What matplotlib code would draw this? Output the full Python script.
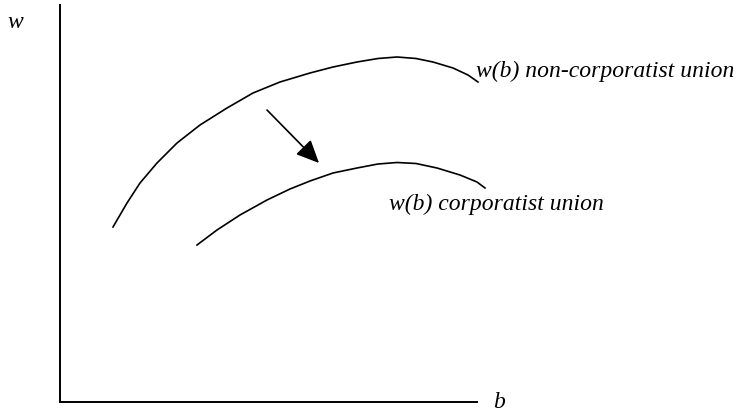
import matplotlib
matplotlib.use("Agg")
import matplotlib.pyplot as plt

# wage curves w(b) (arbitrary units)
b_non_corp = [53, 67, 80, 97, 117, 140, 167, 193, 220, 250, 273, 297, 318, 337, 356, 373, 393, 408, 418]
w_non_corp = [175, 199, 219, 239, 259, 277, 294, 309, 320, 329, 335, 340, 343.5, 345, 343.5, 340, 334, 327, 320]

b_corp = [137, 157, 180, 207, 230, 250, 273, 297, 318, 337, 356, 377, 400, 417, 425]
w_corp = [157, 172, 187, 202, 213, 221, 229, 234, 238, 239.5, 238.5, 234, 227, 220, 214]

# shift arrow (tail -> head)
arrow_tail = (207, 292)
arrow_head = (259, 239)

label_non_corp = "w(b) non-corporatist union"
label_corp = "w(b) corporatist union"

W, H = 739, 417
fig = plt.figure(figsize=(W / 100, H / 100), dpi=100)
ax = fig.add_axes([60 / W, 15 / H, 417 / W, 397 / H])
ax.set_xlim(0, 417)
ax.set_ylim(0, 397)

for side in ["top", "right"]:
    ax.spines[side].set_visible(False)
for side in ["left", "bottom"]:
    ax.spines[side].set_linewidth(1.4)
ax.set_xticks([])
ax.set_yticks([])

ax.plot(b_non_corp, w_non_corp, color="black", lw=1.2, clip_on=False,
        solid_joinstyle="round")
ax.plot(b_corp, w_corp, color="black", lw=1.2, clip_on=False,
        solid_joinstyle="round")

ax.annotate("", xy=arrow_head, xytext=arrow_tail,
            arrowprops=dict(arrowstyle="-|>,head_length=0.7,head_width=0.32",
                            mutation_scale=20, color="black", lw=1.2,
                            shrinkA=0, shrinkB=0))

font = dict(family="Liberation Serif", style="italic", fontsize=17)
ax.text(416, 331, label_non_corp, ha="left", va="center", clip_on=False, **font)
ax.text(329, 198, label_corp, ha="left", va="center", clip_on=False, **font)
ax.text(-45, 380, "w", ha="center", va="center", clip_on=False, **font)
ax.text(439, -1, "b", ha="center", va="center", clip_on=False, **font)

fig.savefig("out.png", dpi=100)
